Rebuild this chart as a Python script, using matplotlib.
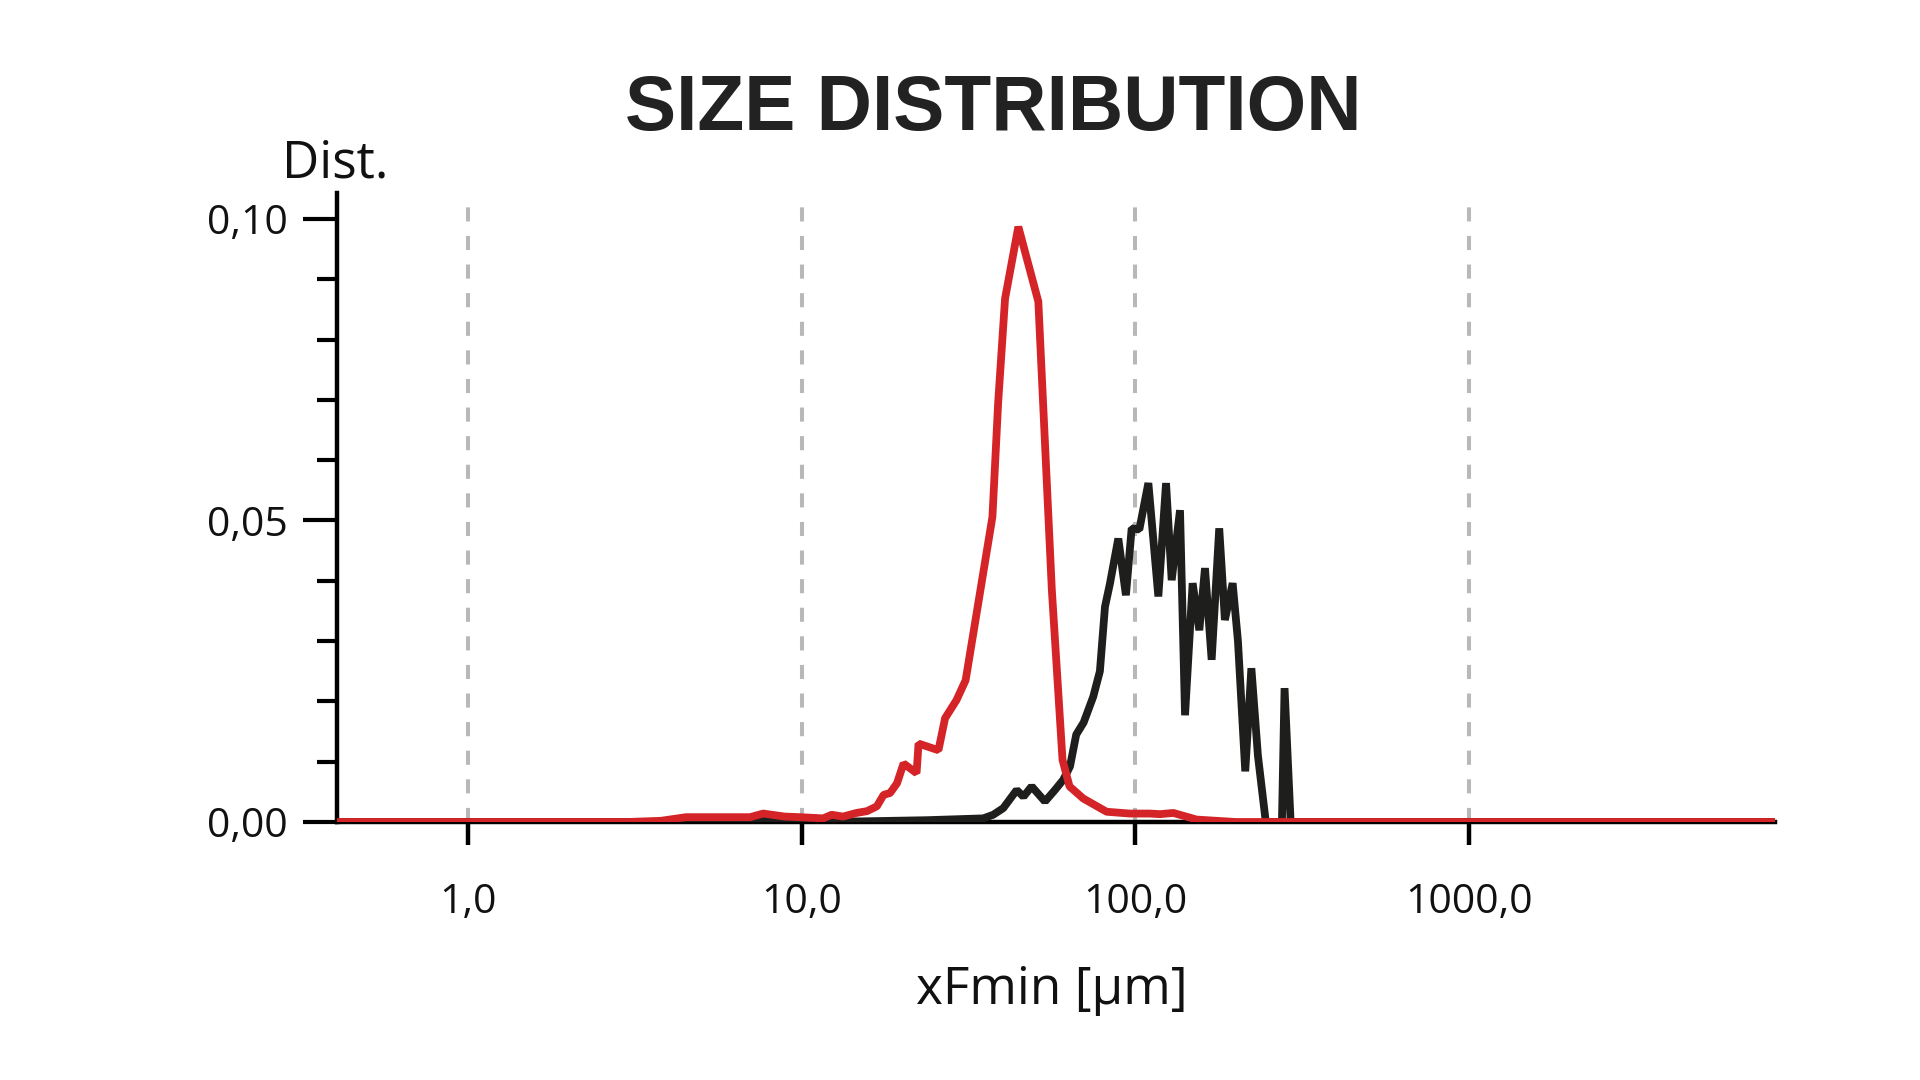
import matplotlib
matplotlib.use("Agg")
import matplotlib.pyplot as plt
from matplotlib.ticker import FixedLocator, MultipleLocator, NullLocator

# ---- data ----
red_x = [0.405, 3.0, 3.79, 4.5, 5.7, 7.0, 7.67, 8.9, 9.9, 11.6, 12.3, 13.3, 14.6, 15.7,
         16.8, 17.6, 18.4, 19.3, 20.2, 22.1, 22.4, 25.7, 26.9, 29.1, 31.0, 37.3, 38.8,
         40.7, 44.6, 51.2, 56.2, 58.1, 60.5, 63.5, 69.8, 82.0, 96.3, 110.6, 118.5,
         130.0, 152.7, 200.0, 8260]
red_y = [0, 0, 0.0002, 0.0008, 0.0008, 0.0008, 0.0014, 0.0009, 0.0008, 0.0006, 0.0012,
         0.0009, 0.0015, 0.0018, 0.0026, 0.0045, 0.0048, 0.0064, 0.0097, 0.0081, 0.0130,
         0.0119, 0.0172, 0.0202, 0.0235, 0.0506, 0.0695, 0.0868, 0.0987, 0.0863, 0.0385,
         0.0258, 0.0103, 0.0059, 0.0039, 0.0017, 0.0014, 0.0014, 0.0013, 0.0015, 0.0004,
         0.0, 0.0]

black_x = [0.405, 7.0, 7.7, 8.5, 15.0, 23.7, 35.0, 37.5, 40.2, 44.1, 46.2, 48.9, 53.6,
           57.4, 60.8, 63.7, 66.5, 70.0, 74.8, 78.3, 81.1, 83.9, 88.9, 93.7, 97.5, 102.8,
           109.4, 117.2, 123.6, 128.5, 136.1, 140.9, 148.5, 155.5, 161.7, 169.3, 178.4,
           185.5, 195.7, 203.0, 213.5, 222.7, 233.0, 246.0, 275.0, 280.0, 292.0, 8260]
black_y = [0, 0, 0.0002, 0, 0.0001, 0.0003, 0.0006, 0.0012, 0.0023, 0.0053, 0.0042,
           0.0059, 0.0034, 0.0053, 0.0070, 0.0092, 0.0145, 0.0165, 0.0208, 0.0250, 0.0357,
           0.0395, 0.0470, 0.0376, 0.0487, 0.0485, 0.0562, 0.0374, 0.0562, 0.0401, 0.0517,
           0.0177, 0.0396, 0.0318, 0.0421, 0.0269, 0.0487, 0.0335, 0.0396, 0.0300, 0.0084,
           0.0255, 0.011, 0, 0, 0.0222, 0, 0]

x_ticks = [1, 10, 100, 1000]
x_tick_labels = ["1,0", "10,0", "100,0", "1000,0"]
y_ticks = [0.0, 0.05, 0.10]
y_tick_labels = ["0,00", "0,05", "0,10"]

title = "SIZE DISTRIBUTION"
y_title = "Dist."
x_title = "xFmin [µm]"

RED = "#d42427"
BLACK = "#1e1e1c"
TXT = "#111111"

plt.rcParams['font.family'] = ['Open Sans', 'DejaVu Sans']

fig = plt.figure(figsize=(19.2, 10.8), dpi=100)
ax = fig.add_axes([337/1920, 1 - 822/1080, (1775-337)/1920, (822-193)/1080])

ax.set_xscale('log')
ax.set_xlim(0.405, 8260)
ax.set_ylim(0, 0.1043)

for xv in x_ticks:
    ax.axvline(xv, color="#b8b8b8", lw=2.9, ls=(0, (3.5, 3.6)), zorder=1)

ax.plot(black_x, black_y, color=BLACK, lw=5.6, solid_joinstyle='bevel', zorder=3)
ax.plot(red_x, red_y, color=RED, lw=5.6, solid_joinstyle='bevel', zorder=4)

for s in ['top', 'right']:
    ax.spines[s].set_visible(False)
for s in ['left', 'bottom']:
    ax.spines[s].set_linewidth(3.2)
    ax.spines[s].set_color("black")
    ax.spines[s].set_zorder(2)

ax.xaxis.set_major_locator(FixedLocator(x_ticks))
ax.xaxis.set_minor_locator(NullLocator())
ax.set_xticklabels(x_tick_labels)
ax.yaxis.set_major_locator(FixedLocator(y_ticks))
ax.yaxis.set_minor_locator(MultipleLocator(0.01))
ax.set_yticklabels(y_tick_labels)

ax.tick_params(axis='x', which='major', direction='out', length=16.5, width=3.2,
               pad=27, labelsize=29.5, labelcolor=TXT, color='black')
ax.tick_params(axis='y', which='major', direction='out', length=24.5, width=3.0,
               pad=11, labelsize=29.5, labelcolor=TXT, color='black')
ax.tick_params(axis='y', which='minor', direction='out', length=14.5, width=3.0,
               color='black')

fig.text(335.5/1920, 1 - 177.5/1080, y_title, ha='center', va='baseline',
         fontsize=37, color=TXT)
fig.text(1052/1920, 1 - 1004/1080, x_title, ha='center', va='baseline',
         fontsize=37, color=TXT)

t = fig.text(993.7/1920, 1 - 130/1080, title, ha='center', va='baseline',
             fontsize=56, fontweight='bold', color="#222222",
             family=['Liberation Sans', 'DejaVu Sans'])
fig.canvas.draw()
w = t.get_window_extent().width
t.set_fontsize(56 * 736 / w)

fig.savefig("out.png", dpi=100, facecolor="white")
